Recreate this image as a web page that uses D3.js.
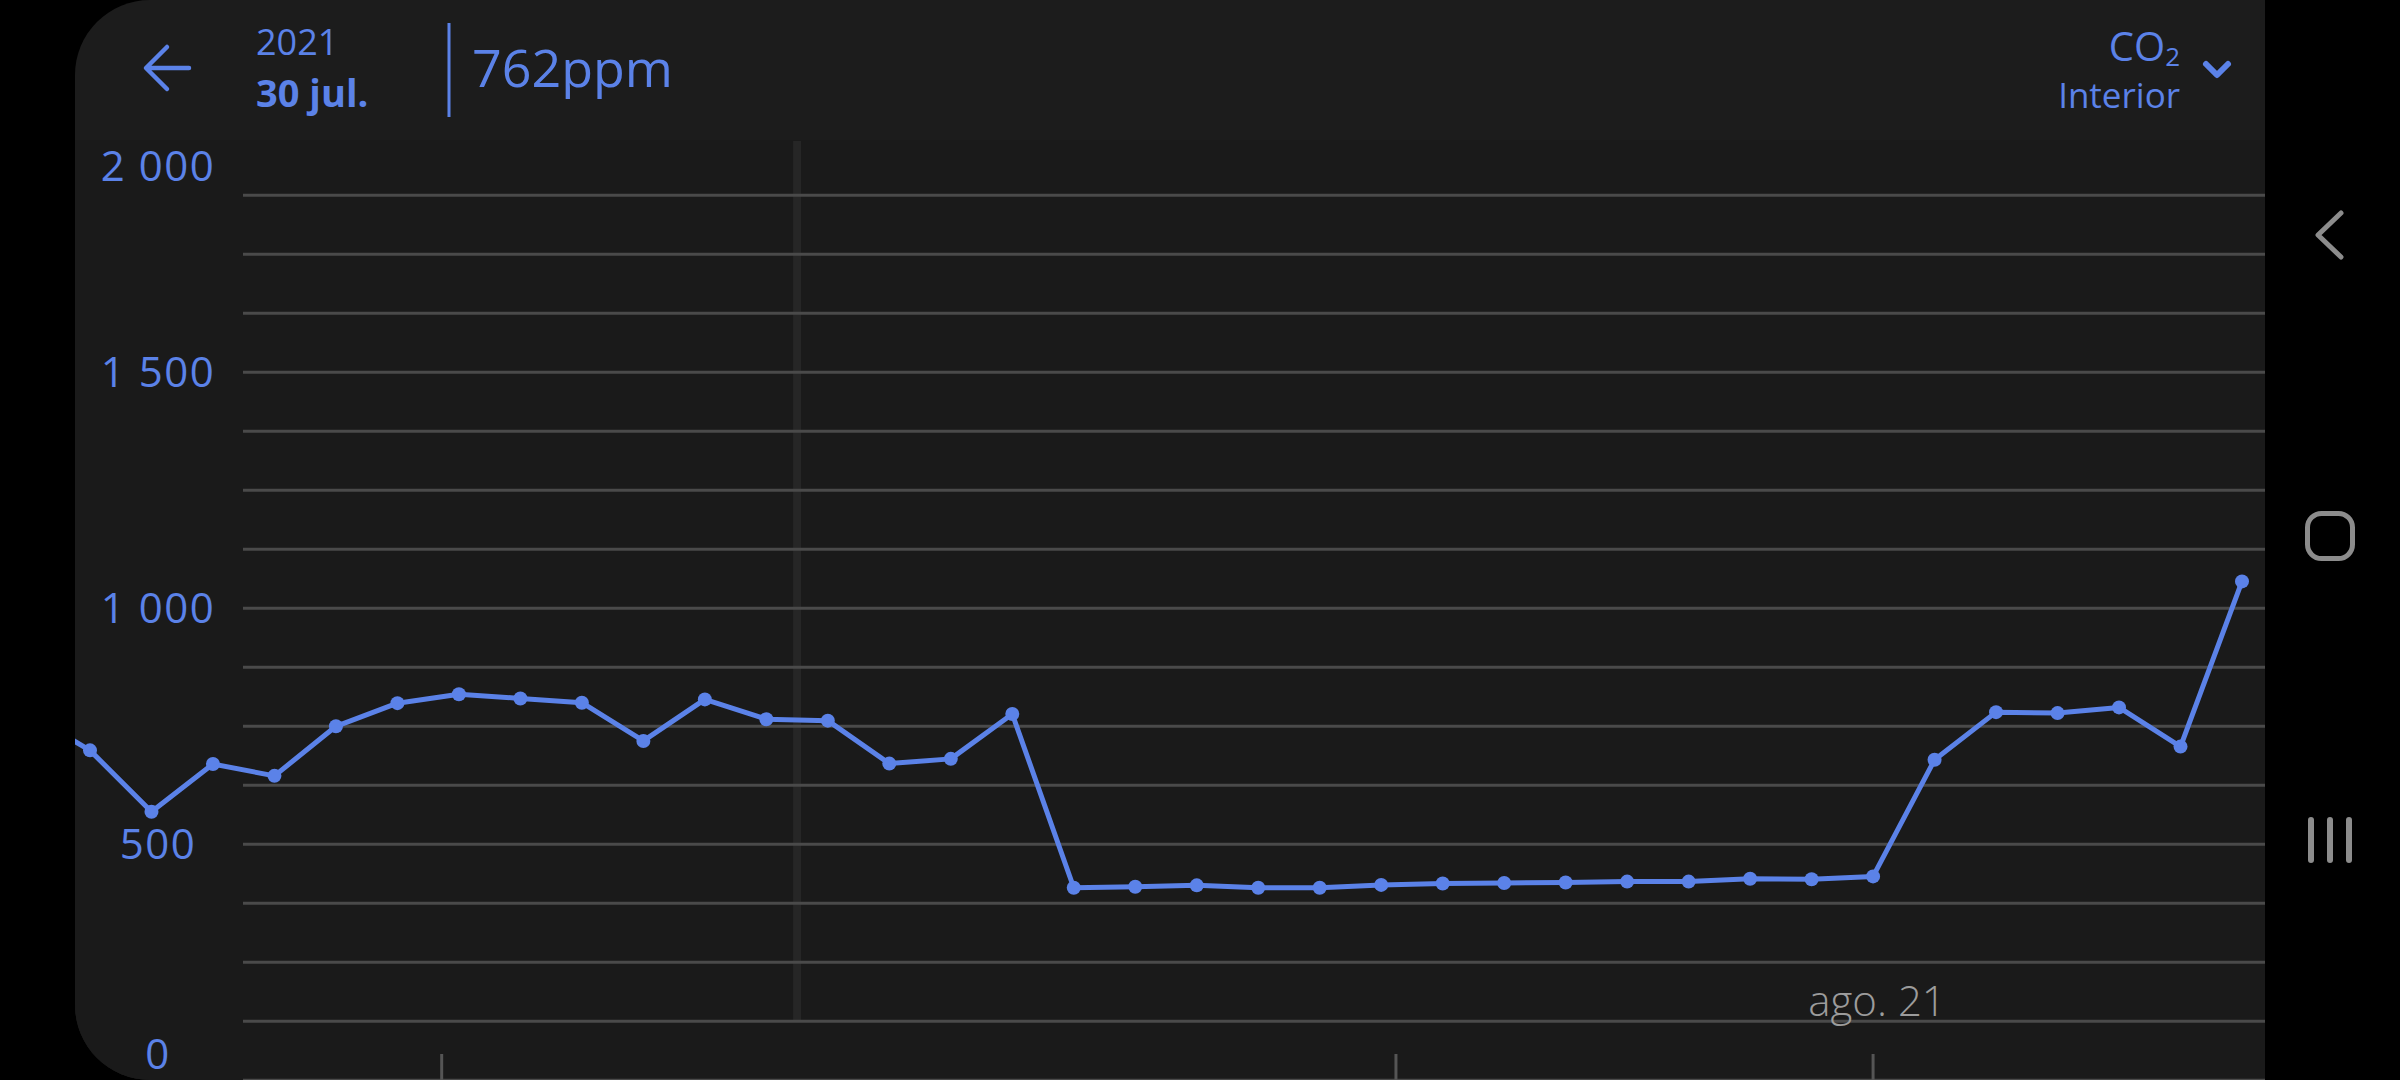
<!DOCTYPE html>
<html><head><meta charset="utf-8">
<script src="https://cdn.jsdelivr.net/npm/d3@7"></script>
<style>html,body{margin:0;padding:0;background:#000;overflow:hidden}svg{display:block}</style>
</head><body>
<svg id="c" width="2400" height="1080"></svg>
<script>
// ---- data ----
const pointIndex = d3.range(-1, 36);
const co2Values = [776, 699, 569, 670, 645, 750, 799, 818, 809, 800, 719, 807, 765, 762, 671, 681, 776,
  408, 410, 413, 408, 408, 414, 417, 418, 419, 421, 421, 427, 426, 432, 679, 780, 778, 790, 707, 1057];
const yTickValues = [0, 500, 1000, 1500, 2000];
const yTickLabels = ["0", "500", "1\u00a0000", "1\u00a0500", "2\u00a0000"];
const gridValues = d3.range(0, 2000, 125);
const xTickPositions = [5.72, 21.24, 29];
const xTickLabels = ["", "", "ago. 21"];
const cursorIndex = 11.5;
const headerYear = "2021";
const headerDate = "30 jul.";
const headerValue = "762ppm";
const metricName = "CO";
const metricSub = "2";
const locationName = "Interior";

// ---- style ----
const BLUE = "#5b82e8";
const FONT = "'Open Sans', 'Noto Sans', sans-serif";

const svg = d3.select("#c");
const panelL = 75, panelR = 2265, R = 75, H = 1080;

// panel shape with rounded left corners
const panelPath = `M${panelL + R},0 H${panelR} V${H} H${panelL + R} A${R},${R} 0 0 1 ${panelL},${H - R} V${R} A${R},${R} 0 0 1 ${panelL + R},0 Z`;
const defs = svg.append("defs");
defs.append("clipPath").attr("id", "panelClip").append("path").attr("d", panelPath);

svg.append("rect").attr("width", 2400).attr("height", 1080).attr("fill", "#000");
const panel = svg.append("g").attr("clip-path", "url(#panelClip)");
panel.append("rect").attr("x", panelL).attr("y", 0).attr("width", panelR - panelL).attr("height", H).attr("fill", "#1c1c1c");
panel.append("rect").attr("x", panelL).attr("y", 140).attr("width", panelR - panelL).attr("height", H - 140).attr("fill", "#1a1a1a");

// scales
const x = d3.scaleLinear().domain([0, 35]).range([90, 2242]);
const y = d3.scaleLinear().domain([0, 2000]).range([1080.3, 136.3]);

// cursor band
panel.append("line").attr("x1", x(cursorIndex)).attr("x2", x(cursorIndex))
  .attr("y1", 141).attr("y2", y(125)).attr("stroke", "#262626").attr("stroke-width", 8);

// gridlines
panel.append("g").selectAll("line").data(gridValues).join("line")
  .attr("x1", 243).attr("x2", panelR)
  .attr("y1", d => y(d)).attr("y2", d => y(d))
  .attr("stroke", "#4a4a4a").attr("stroke-width", 3);

// bottom ticks
panel.append("g").selectAll("line").data(xTickPositions).join("line")
  .attr("x1", d => x(d)).attr("x2", d => x(d))
  .attr("y1", 1054).attr("y2", 1080)
  .attr("stroke", "#555").attr("stroke-width", 3);
panel.append("g").selectAll("text").data(xTickPositions).join("text")
  .attr("x", d => x(d) + 4).attr("y", 1016)
  .attr("text-anchor", "middle")
  .attr("font-family", FONT).attr("font-weight", 300).attr("font-size", 42)
  .attr("fill", "#9c9c9c")
  .text((d, i) => xTickLabels[i]);

// y labels (clamped into view)
panel.append("g").selectAll("text").data(yTickValues).join("text")
  .attr("x", 158)
  .attr("y", d => Math.min(Math.max(y(d), 166), 1054) + 15)
  .attr("text-anchor", "middle")
  .attr("font-family", FONT).attr("font-size", 42).attr("letter-spacing", 1.5)
  .attr("fill", BLUE)
  .text((d, i) => yTickLabels[i]);

// line + points
const data = pointIndex.map((idx, i) => ({ idx, v: co2Values[i] }));
const line = d3.line().x(d => x(d.idx)).y(d => y(d.v));
panel.append("path").datum(data).attr("d", line)
  .attr("fill", "none").attr("stroke", BLUE).attr("stroke-width", 5).attr("stroke-linejoin", "round");
panel.append("g").selectAll("circle").data(data).join("circle")
  .attr("cx", d => x(d.idx)).attr("cy", d => y(d.v)).attr("r", 7).attr("fill", BLUE);

// header
panel.append("path").attr("d", "M189,68 H147 M167,47 L146,68 L167,89")
  .attr("fill", "none").attr("stroke", BLUE).attr("stroke-width", 4.5)
  .attr("stroke-linecap", "round").attr("stroke-linejoin", "round");
panel.append("text").attr("x", 256).attr("y", 55)
  .attr("font-family", FONT).attr("font-size", 36).attr("fill", BLUE).text(headerYear);
panel.append("text").attr("x", 256).attr("y", 107)
  .attr("font-family", FONT).attr("font-weight", 700).attr("font-size", 38).attr("fill", BLUE).text(headerDate);
panel.append("line").attr("x1", 449).attr("x2", 449).attr("y1", 23).attr("y2", 117)
  .attr("stroke", BLUE).attr("stroke-width", 3);
panel.append("text").attr("x", 472).attr("y", 87)
  .attr("font-family", FONT).attr("font-size", 52).attr("fill", BLUE).text(headerValue);

const metric = panel.append("text").attr("x", 2180).attr("y", 61).attr("text-anchor", "end")
  .attr("font-family", FONT).attr("font-size", 40).attr("fill", BLUE);
metric.append("tspan").text(metricName);
metric.append("tspan").attr("font-size", 26).attr("dy", 5).text(metricSub);
panel.append("text").attr("x", 2180).attr("y", 108).attr("text-anchor", "end")
  .attr("font-family", FONT).attr("font-size", 35).attr("fill", BLUE).text(locationName);
panel.append("path").attr("d", "M2206,64 L2217,75 L2228,64")
  .attr("fill", "none").attr("stroke", BLUE).attr("stroke-width", 6)
  .attr("stroke-linecap", "round").attr("stroke-linejoin", "round");

// navigation bar icons
const NAV = "#8c8c8c";
svg.append("path").attr("d", "M2341,213 L2318,235 L2341,257")
  .attr("fill", "none").attr("stroke", NAV).attr("stroke-width", 5)
  .attr("stroke-linecap", "round").attr("stroke-linejoin", "round");
svg.append("rect").attr("x", 2307.5).attr("y", 513.5).attr("width", 45).attr("height", 45).attr("rx", 14)
  .attr("fill", "none").attr("stroke", NAV).attr("stroke-width", 5);
svg.append("g").selectAll("line").data([2311, 2330, 2349]).join("line")
  .attr("x1", d => d).attr("x2", d => d).attr("y1", 820).attr("y2", 860)
  .attr("stroke", NAV).attr("stroke-width", 6).attr("stroke-linecap", "round");
</script>
</body></html>
